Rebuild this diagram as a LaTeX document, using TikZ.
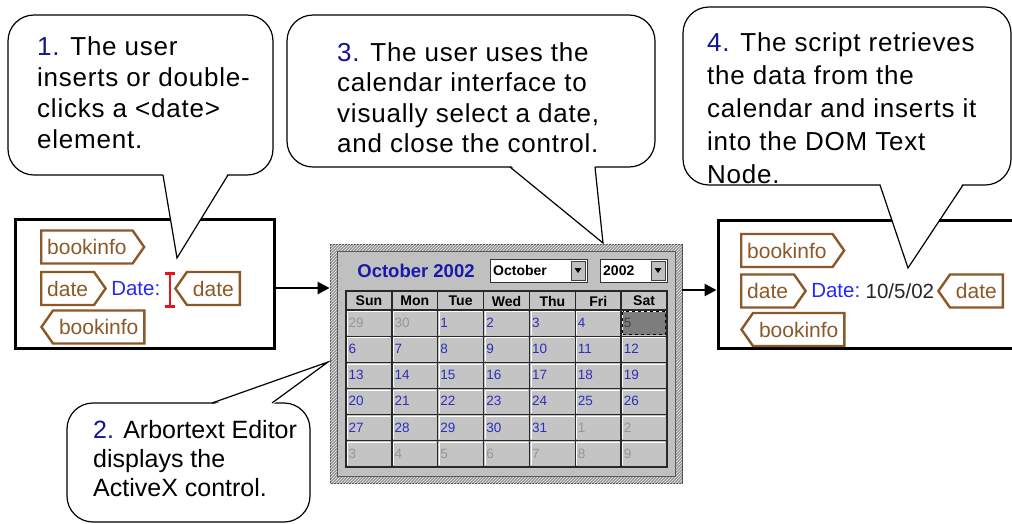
\documentclass[tikz,border=0pt]{standalone}
\usepackage{fontspec}
\usetikzlibrary{shapes.symbols,arrows.meta,patterns,positioning}
\newfontfamily\notefont{Liberation Sans}[LetterSpace=3.0]
\newfontfamily\plainfont{Liberation Sans}

\definecolor{tagbrown}{RGB}{140,88,40}
\definecolor{stepblue}{RGB}{20,20,140}
\definecolor{datelabel}{RGB}{40,40,250}
\definecolor{daynum}{RGB}{45,45,190}
\definecolor{othermonth}{RGB}{150,150,150}
\definecolor{facegrey}{RGB}{192,192,192}
\definecolor{cellgrey}{RGB}{196,196,196}
\definecolor{hatchgrey}{RGB}{150,150,150}
\definecolor{selgrey}{RGB}{125,125,125}
\definecolor{gridline}{RGB}{40,40,40}
\definecolor{titleblue}{RGB}{25,25,170}
\definecolor{cursorred}{RGB}{230,20,30}

\tikzset{
  callout/.style={draw=black, line width=1.2pt, fill=white, rounded corners=26pt},
  tail/.style={draw=black, line width=1.2pt},
  note/.style={inner sep=0pt, align=left, anchor=north west},
  panel/.style={draw=black, line width=3pt, fill=white},
  flow/.style={line width=2.5pt, -{Triangle[length=12pt,width=12pt]}},
  tag/.style={shape=signal, draw=tagbrown, line width=2.4pt, fill=white, text=tagbrown,
    font=\plainfont\fontsize{21}{24}\selectfont, minimum height=33pt,
    inner xsep=6pt, inner ysep=0pt, signal pointer angle=110},
  starttag/.style={tag, signal to=east, anchor=west},
  endtag/.style={tag, signal to=west, anchor=east},
  inline/.style={font=\plainfont\fontsize{20.5}{24}\selectfont, inner sep=0pt},
  cursor/.style={draw=cursorred, line width=2.6pt},
  calframe/.style={draw=gray!60!black, line width=0.8pt, fill=hatchgrey,
    postaction={pattern=north east lines, pattern color=white!85!gray},
    minimum width=352pt, minimum height=239pt},
  combotext/.style={font=\plainfont\bfseries\fontsize{14}{16}\selectfont, inner sep=0pt, anchor=west},
  cellbox/.style={fill=cellgrey, draw=gridline, line width=1.3pt},
  headtext/.style={font=\plainfont\bfseries\fontsize{14}{16}\selectfont, inner sep=0pt},
  daytext/.style={font=\plainfont\fontsize{13.5}{15}\selectfont, inner sep=0pt, anchor=west},
}

\begin{document}
\begin{tikzpicture}[x=1pt, y=-1pt]
\useasboundingbox (0,0) rectangle (1012,523);

% before: the editor with an empty date element
\node[panel, minimum width=259pt, minimum height=129pt] (leftpanel) at (144.5,283.5) {};
\node[starttag] (lbook) at (40,247) {bookinfo};
\node[starttag] (ldate) at (40,288.5) {date};
\node[inline, text=datelabel, right=4pt of ldate] (ldatetxt) {Date:};
\draw[cursor] (165,273.5) -- (175,273.5) (170,273.5) -- (170,306.5) (165,306.5) -- (175,306.5);
\node[endtag] (ldateend) at (241,288.5) {date};
\node[starttag, signal to=west, anchor=west] (lbookend) at (40,327) {bookinfo};

% after: the date filled in
\node[panel, minimum width=296pt, minimum height=128pt] (rightpanel) at (866,284) {};
\node[starttag] (rbook) at (740,250.5) {bookinfo};
\node[starttag] (rdate) at (740,291) {date};
\node[inline, text=datelabel, right=4pt of rdate] (rdatetxt) {Date:};
\node[inline, text=black!85, right=5pt of rdatetxt] (rvalue) {10/5/02};
\node[endtag] (rdateend) at (1004,291) {date};
\node[starttag, signal to=west, anchor=west] (rbookend) at (740,329.5) {bookinfo};

% the ActiveX calendar
\node[calframe] (cal) at (506,363.5) {};
\filldraw[fill=facegrey, draw=gray!70!black, line width=0.6pt] (337,251) rectangle (675,476);
\node[font=\plainfont\bfseries\fontsize{18.5}{20}\selectfont, text=titleblue, inner sep=0pt] (caltitle) at (416,271) {October 2002};

\filldraw[fill=white, draw=gray!40!black, line width=1pt] (490,259) rectangle (587,282);
\filldraw[fill=facegrey, draw=gray!50!black, line width=0.6pt] (571,261) rectangle (585,280);
\fill (574.5,268) -- (581.5,268) -- (578,273) -- cycle;
\node[combotext] (monthbox) at (493,270.5) {October};

\filldraw[fill=white, draw=gray!40!black, line width=1pt] (600,259) rectangle (667,282);
\filldraw[fill=facegrey, draw=gray!50!black, line width=0.6pt] (651,261) rectangle (665,280);
\fill (654.5,268) -- (661.5,268) -- (658,273) -- cycle;
\node[combotext] (yearbox) at (603,270.5) {2002};

\def\gx{346}
\def\gy{310}
\def\gw{45.857}
\def\gh{26.167}

\foreach \dname [count=\i from 0] in {Sun,Mon,Tue,Wed,Thu,Fri,Sat} {
  \filldraw[cellbox] ({\gx+\i*\gw},291) rectangle ({\gx+(\i+1)*\gw},\gy);
  \node[headtext] (h-\i) at ({\gx+(\i+0.5)*\gw},301) {\dname};
}

\foreach \r in {0,...,5} {
  \foreach \c in {0,...,6} {
    \pgfmathtruncatemacro\dnum{7*\r+\c-1}
    \pgfmathsetmacro\cellx{\gx+\c*\gw}
    \pgfmathsetmacro\celly{\gy+\r*\gh}
    \def\dcol{daynum}
    \ifnum\dnum<1 \pgfmathtruncatemacro\dnum{30+\dnum}\def\dcol{othermonth}\fi
    \ifnum\dnum>31 \pgfmathtruncatemacro\dnum{\dnum-31}\def\dcol{othermonth}\fi
    \filldraw[cellbox] (\cellx,\celly) rectangle ({\cellx+\gw},{\celly+\gh});
    \draw[white, line width=0.8pt] ({\cellx+1.6},{\celly+\gh-1.6}) -- ({\cellx+1.6},{\celly+1.6}) -- ({\cellx+\gw-1.6},{\celly+1.6});
    \node[daytext, text=\dcol] (d-\r-\c) at ({\cellx+2.5},{\celly+12.7}) {\dnum};
  }
}

% selected day
\filldraw[fill=selgrey, draw=black, dashed, line width=0.8pt] ({\gx+6*\gw+1.5},{\gy+1.5}) rectangle ({\gx+7*\gw-1.5},{\gy+\gh-1.5});
\node[daytext, text=black!75] (sel) at ({\gx+6*\gw+2.5},{\gy+12.7}) {5};
\draw[gridline, line width=2pt] (346,291) rectangle (667,467);

% flow arrows
\draw[flow] ([yshift=-4.5pt]leftpanel.east) -- ([yshift=-4.5pt]leftpanel.east -| cal.west);
\draw[flow] ([yshift=-6pt]rightpanel.west -| cal.east) -- ([yshift=-6pt]rightpanel.west);

% callout 1
\coordinate (tip1) at (177,258);
\draw[callout] (8,15) rectangle (273,175);
\fill[white] (163,173) -- (tip1) -- (228,173) -- cycle;
\draw[tail] (163,175) -- (tip1) -- (228,175);
\node[note, font=\notefont\fontsize{26}{31}\selectfont] (note1) at (37,36)
  {\textcolor{stepblue}{1.} The user\\inserts or double-\\clicks a <date>\\element.};

% callout 2
\coordinate (tip2) at (328,362);
\draw[callout] (67,403) rectangle (310,522);
\fill[white] (212,405) -- (tip2) -- (272,405) -- cycle;
\draw[tail] (212,403) -- (tip2) -- (272,403);
\node[note, font=\plainfont\fontsize{25}{29}\selectfont] (note2) at (93,420)
  {\textcolor{stepblue}{2.} Arbortext Editor\\displays the\\ActiveX control.};

% callout 3
\coordinate (tip3) at (603,243);
\draw[callout] (287,15) rectangle (655,167);
\fill[white] (510,165) -- (tip3) -- (595,165) -- cycle;
\draw[tail] (510,167) -- (tip3) -- (595,167);
\node[note, font=\notefont\fontsize{26}{30.5}\selectfont] (note3) at (337,42)
  {\textcolor{stepblue}{3.} The user uses the\\calendar interface to\\visually select a date,\\and close the control.};

% callout 4
\coordinate (tip4) at (908,268);
\draw[callout] (683,7) rectangle (1011,185);
\fill[white] (880,183) -- (tip4) -- (963,183) -- cycle;
\draw[tail] (880,185) -- (tip4) -- (963,185);
\node[note, font=\notefont\fontsize{26}{33}\selectfont] (note4) at (707,32)
  {\textcolor{stepblue}{4.} The script retrieves\\the data from the\\calendar and inserts it\\into the DOM Text\\Node.};

\end{tikzpicture}
\end{document}
